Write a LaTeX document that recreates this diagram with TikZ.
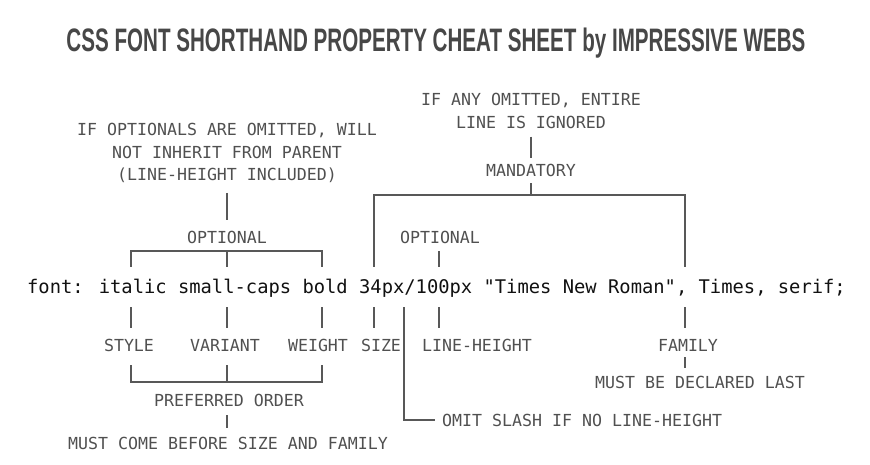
\documentclass[tikz,border=0pt]{standalone}
\usepackage{fontspec}
\usepackage{graphicx}
\newfontfamily\monofnt{DejaVu Sans Mono}
\newfontfamily\titlefnt{Liberation Sans}
\definecolor{titlegrey}{HTML}{474747}
\definecolor{labelgrey}{HTML}{505050}
\definecolor{linegrey}{HTML}{585858}
\definecolor{codeblack}{HTML}{111111}
\tikzset{
  lbl/.style={font=\monofnt\fontsize{16.6}{22.3}\selectfont, text=labelgrey,
    inner sep=0pt, text height=12.1pt, text depth=0pt},
  note/.style={font=\monofnt\fontsize{16.6}{22.3}\selectfont, text=labelgrey,
    inner sep=0pt, align=center},
  codeline/.style={font=\monofnt\fontsize{18.8}{22}\selectfont, text=codeblack,
    inner sep=0pt, text height=14pt, text depth=4pt, anchor=base},
  conn/.style={draw=linegrey, line width=2pt},
}
\begin{document}
\begin{tikzpicture}[x=1pt,y=-1pt]
\useasboundingbox (0,0) rectangle (870,465);
% title
\node[anchor=base, text=titlegrey, inner sep=0pt] (title) at (436,51.5)
  {\resizebox{739pt}{\height}{\titlefnt\bfseries\fontsize{32.5}{33}\selectfont CSS FONT SHORTHAND PROPERTY CHEAT SHEET by IMPRESSIVE WEBS}};
% upper notes
\node[note] (anyomit) at (531,111) {IF ANY OMITTED, ENTIRE\\LINE IS IGNORED};
\node[lbl] (mand) at (531,170) {MANDATORY};
\node[note] (optnote) at (227,153) {IF OPTIONALS ARE OMITTED, WILL\\NOT INHERIT FROM PARENT\\(LINE-HEIGHT INCLUDED)};
\node[lbl] (optL) at (227,237) {OPTIONAL};
\node[lbl] (optR) at (440,237) {OPTIONAL};
% code
\node[codeline] (code) at (436.5,293) {font: italic small-caps bold 34px/100px "Times New Roman", Times, serif;};
% lower labels
\node[lbl] (style) at (129,345) {STYLE};
\node[lbl] (variant) at (225,345) {VARIANT};
\node[lbl] (weight) at (318,345) {WEIGHT};
\node[lbl] (size) at (381,345) {SIZE};
\node[lbl] (lineh) at (477,345) {LINE-HEIGHT};
\node[lbl] (family) at (688,345) {FAMILY};
\node[lbl] (decl) at (700,382) {MUST BE DECLARED LAST};
\node[lbl] (pref) at (229,400) {PREFERRED ORDER};
\node[lbl] (mustcome) at (228,443) {MUST COME BEFORE SIZE AND FAMILY};
\node[lbl, anchor=west, inner xsep=7pt] (omit) at (435,420) {OMIT SLASH IF NO LINE-HEIGHT};
% tick x positions and bracket joints
\coordinate (xItalic) at (131,0);
\coordinate (xCaps) at (227,0);
\coordinate (xBold) at (322,0);
\coordinate (xSize) at (374,0);
\coordinate (xSlash) at (404,0);
\coordinate (xLH) at (439,0);
\coordinate (xFam) at (685,0);
\coordinate (mbar) at (531,195);
\coordinate (obar) at (227,251);
\coordinate (pbar) at (227,382);
% upper connectors
\draw[conn, shorten <=8pt, shorten >=6pt] (anyomit.south) -- (mand.north);
\draw[conn, shorten <=7pt] (mand.south) -- (mbar);
\draw[conn, shorten <=12pt] (code.north -| xSize) |- (mbar) -| (code.north -| xFam) [shorten >=12pt];
\draw[conn, shorten <=10pt, shorten >=11pt] (optnote.south) -- (optL.north);
\draw[conn, shorten <=12pt] (code.north -| xItalic) |- (obar);
\draw[conn, shorten >=12pt] (obar) -| (code.north -| xBold);
\draw[conn, shorten >=12pt] (obar) -- (code.north -| xCaps);
\draw[conn, shorten <=8pt, shorten >=12pt] (optR.south -| xLH) -- (code.north -| xLH);
% lower ticks
\foreach \lab/\xx in {style/xItalic, variant/xCaps, weight/xBold, size/xSize, lineh/xLH, family/xFam}
  \draw[conn, shorten <=10pt, shorten >=11pt] (code.south -| \xx) -- (\lab.north -| \xx);
\draw[conn, shorten <=10pt] (code.south -| xSlash) |- (omit.west);
% preferred order bracket
\draw[conn, shorten <=14pt] (style.south -| xItalic) |- (pbar);
\draw[conn, shorten >=14pt] (pbar) -| (weight.south -| xBold);
\draw[conn, shorten >=14pt] (pbar) -- (variant.south -| xCaps);
\draw[conn, shorten <=9pt, shorten >=9pt] (pref.south -| xCaps) -- (mustcome.north -| xCaps);
\draw[conn, shorten <=6pt, shorten >=8pt] (family.south -| xFam) -- (decl.north -| xFam);
\end{tikzpicture}
\end{document}
